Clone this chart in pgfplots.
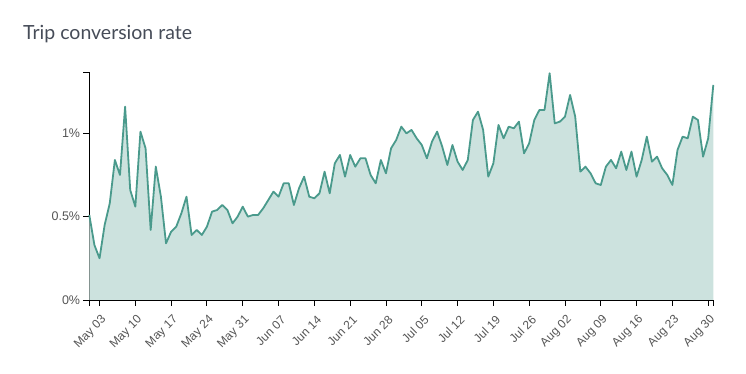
\documentclass[border=0pt]{standalone}
\usepackage{pgfplots}
\usepackage{pgfplotstable}
\pgfplotsset{compat=1.18}
\usepackage{fontspec}
\setmainfont{Liberation Sans}
\newfontfamily\titlefont{Lato}
\definecolor{linec}{RGB}{74,154,140}
\definecolor{fillc}{RGB}{204,226,222}
\definecolor{tickc}{RGB}{85,85,85}
\definecolor{titlec}{RGB}{70,76,88}
\pgfplotstableread{
d v
0 0.51
1 0.33
2 0.25
3 0.45
4 0.58
5 0.84
6 0.75
7 1.16
8 0.66
9 0.56
10 1.01
11 0.91
12 0.42
13 0.80
14 0.62
15 0.34
16 0.41
17 0.44
18 0.52
19 0.62
20 0.39
21 0.42
22 0.39
23 0.44
24 0.53
25 0.54
26 0.57
27 0.54
28 0.46
29 0.50
30 0.56
31 0.50
32 0.51
33 0.51
34 0.55
35 0.60
36 0.65
37 0.62
38 0.70
39 0.70
40 0.57
41 0.67
42 0.74
43 0.62
44 0.61
45 0.64
46 0.77
47 0.64
48 0.82
49 0.87
50 0.74
51 0.87
52 0.80
53 0.85
54 0.85
55 0.75
56 0.70
57 0.84
58 0.76
59 0.91
60 0.96
61 1.04
62 1.00
63 1.02
64 0.97
65 0.93
66 0.85
67 0.95
68 1.01
69 0.92
70 0.81
71 0.93
72 0.83
73 0.78
74 0.84
75 1.08
76 1.13
77 1.02
78 0.74
79 0.82
80 1.05
81 0.97
82 1.04
83 1.03
84 1.07
85 0.88
86 0.94
87 1.08
88 1.14
89 1.14
90 1.36
91 1.06
92 1.07
93 1.10
94 1.23
95 1.10
96 0.77
97 0.80
98 0.76
99 0.70
100 0.69
101 0.80
102 0.84
103 0.79
104 0.89
105 0.78
106 0.89
107 0.74
108 0.84
109 0.98
110 0.83
111 0.86
112 0.79
113 0.75
114 0.69
115 0.90
116 0.98
117 0.97
118 1.10
119 1.08
120 0.86
121 0.97
122 1.29
}\datatable
\begin{document}
\begin{tikzpicture}[x=1pt,y=1pt]
\path[use as bounding box] (0,0) rectangle (746,374);
\node[anchor=base west, font=\titlefont\fontsize{19.5}{22}\selectfont, text=titlec, inner sep=0pt] at (23,334) {Trip conversion rate};
\begin{axis}[
  at={(89.3pt,74pt)}, anchor=south west,
  scale only axis, width=624pt, height=227.7pt,
  xmin=0, xmax=122, ymin=0, ymax=1.366,
  axis lines=left, axis line style={-, black, line width=0.9pt},
  tick align=outside, major tick length=6pt,
  tick style={black, line width=0.9pt},
  xtick={2,9,...,121},
  xticklabels={May 03,May 10,May 17,May 24,May 31,Jun 07,Jun 14,Jun 21,Jun 28,Jul 05,Jul 12,Jul 19,Jul 26,Aug 02,Aug 09,Aug 16,Aug 23,Aug 30},
  ytick={0,0.5,1},
  yticklabels={0\%,0.5\%,1\%},
  extra x ticks={0,122}, extra x tick labels={},
  extra y ticks={1.366}, extra y tick labels={},
  xticklabel style={rotate=45, anchor=east, font=\fontsize{12}{14}\selectfont, text=tickc, inner sep=0pt, xshift=-5pt, yshift=-12pt},
  yticklabel style={font=\fontsize{12.5}{14}\selectfont, text=tickc, inner sep=1pt, xshift=-2pt},
  clip=false,
]
\addplot[fill=fillc, draw=none] table[x=d,y=v]{\datatable} \closedcycle;
\addplot[linec, line width=1.8pt, line join=round] table[x=d,y=v]{\datatable};
\end{axis}
\end{tikzpicture}
\end{document}
